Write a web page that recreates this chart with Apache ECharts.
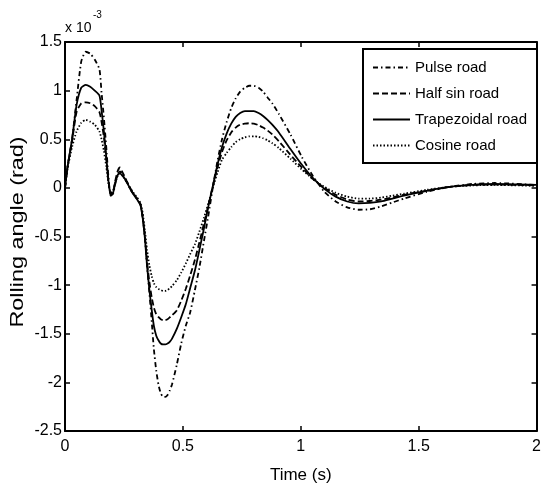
<!DOCTYPE html>
<html lang="en">
<head>
    <meta charset="UTF-8">
    <title>Rolling angle</title>
    <style>
        * { padding: 0; margin: 0; }
        html, body { background: #fff; }
    </style>
    <script src="https://cdn.jsdelivr.net/npm/echarts@6/dist/echarts.min.js"></script>
</head>
<body>
    <div id="main" style="width:544px;height:489px;"></div>
    <script type="text/javascript">
    // time (s)
    var times = [
        0, 0.011, 0.030, 0.049, 0.069, 0.088, 0.107, 0.126, 0.146, 0.155,
        0.165, 0.175, 0.184, 0.194, 0.204, 0.213, 0.223, 0.233, 0.242, 0.252,
        0.262, 0.281, 0.300, 0.319, 0.329, 0.339, 0.348, 0.358, 0.368, 0.377,
        0.387, 0.397, 0.406, 0.416, 0.425, 0.435, 0.445, 0.454, 0.474, 0.493,
        0.512, 0.531, 0.551, 0.570, 0.589, 0.609, 0.628, 0.647, 0.666, 0.686,
        0.705, 0.724, 0.743, 0.763, 0.782, 0.801, 0.821, 0.840, 0.859, 0.879,
        0.907, 0.956, 1.004, 1.052, 1.100, 1.148, 1.197, 1.245, 1.293, 1.341,
        1.389, 1.438, 1.534, 1.630, 1.727, 1.823, 2.0
    ];

    // rolling angle, x 10^-3 rad
    var pulseRoad = [
        0, 0.22, 0.50, 0.90, 1.30, 1.40, 1.38, 1.32, 1.22, 0.98,
        0.72, 0.42, 0.12, -0.08, -0.06, 0.04, 0.14, 0.17, 0.14, 0.10,
        0.06, -0.03, -0.10, -0.17, -0.30, -0.52, -0.80, -1.08, -1.38, -1.66,
        -1.88, -2.03, -2.11, -2.15, -2.15, -2.13, -2.08, -2.02, -1.82, -1.60,
        -1.42, -1.28, -1.05, -0.82, -0.55, -0.27, 0.02, 0.28, 0.50, 0.68,
        0.82, 0.92, 0.99, 1.03, 1.05, 1.05, 1.03, 0.99, 0.93, 0.87,
        0.76, 0.55, 0.32, 0.12, -0.04, -0.14, -0.20, -0.225, -0.22, -0.19,
        -0.15, -0.11, -0.04, 0.01, 0.04, 0.05, 0.03
    ];
    var halfSinRoad = [
        0, 0.22, 0.48, 0.78, 0.87, 0.88, 0.87, 0.84, 0.78, 0.68,
        0.52, 0.30, 0.08, -0.07, -0.04, 0.07, 0.17, 0.21, 0.17, 0.12,
        0.07, -0.02, -0.09, -0.16, -0.29, -0.50, -0.76, -0.97, -1.13, -1.23,
        -1.30, -1.33, -1.35, -1.36, -1.36, -1.35, -1.33, -1.31, -1.26, -1.16,
        -1.04, -0.90, -0.74, -0.56, -0.37, -0.17, 0.03, 0.21, 0.37, 0.49,
        0.57, 0.62, 0.65, 0.66, 0.665, 0.66, 0.645, 0.62, 0.59, 0.55,
        0.48, 0.34, 0.21, 0.09, 0.0, -0.07, -0.12, -0.14, -0.135, -0.12,
        -0.10, -0.07, -0.03, 0.01, 0.03, 0.035, 0.025
    ];
    var trapezoidalRoad = [
        0, 0.22, 0.50, 0.85, 1.03, 1.06, 1.04, 1.00, 0.95, 0.80,
        0.58, 0.32, 0.08, -0.08, -0.05, 0.05, 0.13, 0.15, 0.13, 0.10,
        0.06, -0.03, -0.10, -0.17, -0.30, -0.52, -0.80, -1.05, -1.26, -1.42,
        -1.52, -1.57, -1.60, -1.61, -1.61, -1.60, -1.58, -1.55, -1.45, -1.33,
        -1.20, -1.03, -0.85, -0.64, -0.42, -0.18, 0.03, 0.24, 0.42, 0.56,
        0.66, 0.73, 0.77, 0.79, 0.79, 0.79, 0.77, 0.74, 0.70, 0.65,
        0.57, 0.40, 0.24, 0.10, -0.01, -0.09, -0.14, -0.16, -0.155, -0.14,
        -0.11, -0.08, -0.03, 0.01, 0.03, 0.04, 0.03
    ];
    var cosineRoad = [
        0, 0.20, 0.42, 0.58, 0.67, 0.70, 0.68, 0.65, 0.58, 0.50,
        0.38, 0.22, 0.05, -0.05, -0.03, 0.05, 0.12, 0.15, 0.13, 0.10,
        0.06, -0.02, -0.08, -0.15, -0.25, -0.44, -0.64, -0.80, -0.91, -0.98,
        -1.02, -1.04, -1.05, -1.06, -1.06, -1.05, -1.03, -1.01, -0.95, -0.87,
        -0.78, -0.68, -0.58, -0.45, -0.31, -0.15, 0.01, 0.16, 0.29, 0.36,
        0.42, 0.47, 0.50, 0.52, 0.53, 0.53, 0.525, 0.51, 0.49, 0.46,
        0.41, 0.30, 0.19, 0.09, 0.01, -0.05, -0.09, -0.11, -0.11, -0.10,
        -0.08, -0.06, -0.02, 0.01, 0.025, 0.03, 0.02
    ];

    var seriesNames = ['Pulse road', 'Half sin road', 'Trapezoidal road', 'Cosine road'];
    var seriesValues = [pulseRoad, halfSinRoad, trapezoidalRoad, cosineRoad];
    var dashTypes = [[5, 3, 1.5, 3], [6, 3], 'solid', [1.5, 2]];

    var sans = '"Liberation Sans", Arial, sans-serif';

    var myChart = echarts.init(document.getElementById('main'));

    function pairs(vals) {
        return times.map(function (t, i) { return [t, vals[i]]; });
    }

    var axisLine = { show: true, onZero: false, lineStyle: { color: '#000', width: 2 } };
    var tick = { show: true, inside: true, length: 5, lineStyle: { color: '#000', width: 1.5 } };

    var option = {
        animation: false,
        backgroundColor: '#fff',
        grid: { left: 65, right: 5, top: 42, bottom: 57 },
        legend: {
            data: seriesNames,
            orient: 'vertical',
            left: 363,
            top: 49,
            itemWidth: 37,
            itemHeight: 14,
            itemGap: 11,
            padding: [11, 10, 10, 9],
            backgroundColor: '#fff',
            borderColor: '#000',
            borderWidth: 2,
            borderRadius: 0,
            selectedMode: false,
            itemStyle: { opacity: 0 },
            textStyle: { fontFamily: sans, fontSize: 15, lineHeight: 14, color: '#000' }
        },
        xAxis: [{
            type: 'value', min: 0, max: 2, interval: 0.5,
            name: 'Time (s)', nameLocation: 'middle', nameGap: 36,
            nameTextStyle: { fontFamily: sans, fontSize: 17, color: '#000' },
            axisLine: axisLine, axisTick: tick,
            axisLabel: { margin: 8, fontFamily: sans, fontSize: 16, color: '#000' },
            splitLine: { show: false }
        }, {
            type: 'value', min: 0, max: 2, interval: 0.5, position: 'top',
            axisLine: axisLine, axisTick: tick,
            axisLabel: { show: false }, splitLine: { show: false }
        }],
        yAxis: [{
            type: 'value', min: -2.5, max: 1.5, interval: 0.5,
            axisLine: axisLine, axisTick: tick,
            axisLabel: { margin: 3, fontFamily: sans, fontSize: 16, color: '#000' },
            splitLine: { show: false }
        }, {
            type: 'value', min: -2.5, max: 1.5, interval: 0.5, position: 'right',
            axisLine: axisLine, axisTick: tick,
            axisLabel: { show: false }, splitLine: { show: false }
        }],
        graphic: [
            {
                type: 'text', x: 18, y: 232, rotation: Math.PI / 2, scaleX: 1.3,
                style: {
                    text: 'Rolling angle (rad)', font: '18px ' + sans, fill: '#000',
                    align: 'center', verticalAlign: 'middle'
                }
            },
            {
                type: 'text', x: 65, y: 21,
                style: { text: 'x 10', font: '14px ' + sans, fill: '#000' }
            },
            {
                type: 'text', x: 93, y: 10,
                style: { text: '-3', font: '10px ' + sans, fill: '#000' }
            }
        ],
        series: seriesNames.map(function (name, i) {
            return {
                name: name,
                type: 'line',
                symbol: 'none',
                smooth: 0.2,
                data: pairs(seriesValues[i]),
                lineStyle: { color: '#000', width: 1.8, type: dashTypes[i] },
                itemStyle: { color: '#000' }
            };
        })
    };

    myChart.setOption(option);
    </script>
</body>
</html>
